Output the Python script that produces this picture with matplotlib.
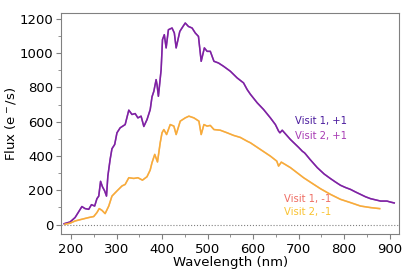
import matplotlib
matplotlib.use("Agg")
import matplotlib.pyplot as plt
from matplotlib.ticker import MultipleLocator

# +1 order spectrum (both visits overlap almost exactly)
wave_plus = [185, 198, 209, 217, 224, 231, 239, 245, 252, 257, 261, 265, 269, 274,
             278, 281, 286, 290, 296, 301, 308, 319, 327, 334, 341, 347, 354, 360,
             367, 374, 378, 382, 387, 389, 392, 398, 401, 405, 409, 414, 422, 427,
             431, 439, 446, 451, 458, 466, 473, 480, 486, 493, 499, 506, 514, 524,
             535, 550, 565, 579, 587, 594, 609, 623, 638, 649, 656, 659, 664, 682,
             700, 708, 713, 716, 725, 741, 756, 770, 781, 792, 803, 814, 825, 836,
             847, 858, 869, 880, 894, 902, 910]
flux_plus_v1 = [5, 15, 41, 75, 105, 93, 89, 116, 108, 151, 166, 252, 221, 196,
                166, 283, 380, 442, 467, 535, 564, 583, 667, 642, 647, 622, 632, 572,
                612, 670, 745, 777, 845, 816, 748, 903, 1078, 1107, 1030, 1136, 1146, 1117,
                1030, 1126, 1155, 1175, 1155, 1146, 1117, 1097, 952, 1030, 1010, 1010, 952, 942,
                923, 894, 855, 826, 787, 760, 710, 671, 622, 583, 545, 535, 550, 496,
                450, 428, 418, 409, 380, 332, 295, 268, 248, 229, 216, 205, 190, 176,
                162, 151, 144, 137, 137, 131, 126]
flux_plus_v2 = [5, 15, 41, 75, 105, 93, 89, 116, 108, 151, 166, 252, 221, 196,
                166, 283, 380, 442, 467, 535, 564, 583, 667, 642, 647, 622, 632, 572,
                612, 670, 745, 777, 845, 816, 748, 903, 1078, 1107, 1030, 1136, 1146, 1117,
                1030, 1126, 1155, 1175, 1155, 1146, 1117, 1097, 952, 1030, 1010, 1010, 952, 942,
                923, 894, 855, 826, 787, 760, 710, 671, 622, 583, 545, 535, 550, 496,
                450, 428, 418, 409, 380, 332, 295, 268, 248, 229, 216, 205, 190, 176,
                162, 151, 144, 137, 137, 131, 126]

# -1 order spectrum
wave_minus = [187, 198, 209, 224, 239, 250, 257, 262, 268, 275, 283, 290, 301, 312,
              319, 327, 338, 347, 357, 367, 374, 378, 384, 390, 396, 400, 404, 410,
              418, 426, 431, 440, 451, 459, 470, 481, 486, 492, 499, 506, 514, 528,
              543, 557, 572, 587, 594, 616, 638, 652, 656, 662, 682, 711, 730, 748,
              770, 792, 814, 836, 858, 878]
flux_minus_v1 = [2, 8, 21, 31, 41, 47, 70, 93, 83, 64, 108, 166, 196, 225,
                 234, 273, 269, 273, 259, 279, 318, 361, 409, 365, 477, 535, 554, 525,
                 583, 574, 525, 603, 622, 632, 622, 603, 525, 583, 574, 578, 554, 550,
                 535, 520, 508, 486, 477, 438, 399, 370, 341, 364, 332, 273, 240, 209,
                 176, 147, 128, 108, 99, 93]
flux_minus_v2 = [2, 8, 21, 31, 41, 47, 70, 93, 83, 64, 108, 166, 196, 225,
                 234, 273, 269, 273, 259, 279, 318, 361, 409, 365, 477, 535, 554, 525,
                 583, 574, 525, 603, 622, 632, 622, 603, 525, 583, 574, 578, 554, 550,
                 535, 520, 508, 486, 477, 438, 399, 370, 341, 364, 332, 273, 240, 209,
                 176, 147, 128, 108, 99, 93]

labels = ["Visit 1, +1", "Visit 2, +1", "Visit 1, -1", "Visit 2, -1"]
text_colors = ["#4b1c9e", "#a83cb4", "#ef6e64", "#f9c332"]

fig = plt.figure(figsize=(4.15, 2.77), dpi=100)
ax = fig.add_axes([0.148, 0.154, 0.814, 0.800])

ax.axhline(0, color="gray", linestyle=":", linewidth=0.8)

ax.plot(wave_plus, flux_plus_v1, color="#6a1b9a", linewidth=1.1)
ax.plot(wave_plus, flux_plus_v2, color="#8e24aa", linewidth=1.1, alpha=0.6)
ax.plot(wave_minus, flux_minus_v1, color="#f59a3c", linewidth=1.1)
ax.plot(wave_minus, flux_minus_v2, color="#f9b83a", linewidth=1.1, alpha=0.6)

# text labels instead of a legend
ax.text(691, 601, labels[0], color=text_colors[0], fontsize=7.2, va="center")
ax.text(691, 519, labels[1], color=text_colors[1], fontsize=7.2, va="center")
ax.text(667, 147, labels[2], color=text_colors[2], fontsize=7.2, va="center")
ax.text(667, 72, labels[3], color=text_colors[3], fontsize=7.2, va="center")

ax.set_xlim(179, 921)
ax.set_ylim(-57, 1235)
ax.xaxis.set_major_locator(MultipleLocator(100))
ax.xaxis.set_minor_locator(MultipleLocator(50))
ax.yaxis.set_major_locator(MultipleLocator(200))
ax.yaxis.set_minor_locator(MultipleLocator(100))
ax.tick_params(which="both", colors="gray", labelcolor="black", labelsize=9.5)
ax.tick_params(which="major", length=3.5, pad=2.5)
ax.tick_params(which="minor", length=2)
for spine in ax.spines.values():
    spine.set_color("gray")

ax.set_xlabel("Wavelength (nm)", fontsize=9.5, labelpad=0)
ax.set_ylabel("Flux (e$^-$/s)", fontsize=9.5, labelpad=1)

fig.savefig("out.png", dpi=100)
